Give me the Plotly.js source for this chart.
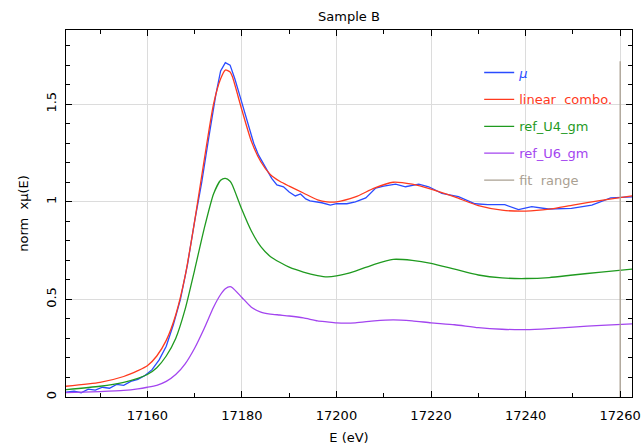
<!DOCTYPE html>
<html><head><meta charset="utf-8">
<script src="https://cdn.plot.ly/plotly-3.0.1.min.js"></script>
<style>body{margin:0;padding:0;background:#fff}#chart{width:644px;height:445px}</style>
</head><body><div id="chart"></div>
<script>
// mu (data)
const muE = [17142.8,17144.5,17146,17147.5,17149,17150.5,17152,17153.5,17155,17156.5,17158,17159.5,17161,17162.5,17164,17165.5,17167,17168.5,17170,17171.5,17173,17174.5,17175.5,17176.5,17177.5,17178.5,17179.6,17181,17182.5,17183.5,17185.3,17186.3,17187.4,17188.8,17190,17191.3,17192.4,17193.5,17194.4,17196,17196.9,17198.7,17200,17202.2,17204,17206.2,17208.3,17210,17212.5,17214.6,17217.4,17219.5,17222.3,17225.8,17229.3,17232,17235.6,17238.5,17241.3,17244.8,17249.7,17254,17258,17262.5];
const muV = [0.025,0.03,0.022,0.04,0.035,0.05,0.045,0.065,0.06,0.08,0.09,0.11,0.14,0.19,0.26,0.37,0.5,0.68,0.9,1.1,1.33,1.55,1.67,1.713,1.70,1.63,1.54,1.42,1.30,1.24,1.163,1.12,1.086,1.077,1.05,1.03,1.04,1.015,1.005,0.998,0.995,0.983,0.99,0.99,1.0,1.02,1.07,1.08,1.09,1.077,1.09,1.077,1.043,1.026,0.99,0.985,0.985,0.96,0.975,0.963,0.966,0.983,1.02,1.025];
// energies for the model curves
const fitE = [17142.8,17150,17155,17158,17160,17162,17164,17166,17168,17170,17172,17174,17175.5,17176.5,17177.5,17178,17180,17182,17184,17186,17188,17190,17193,17196,17198,17200,17204,17208,17212,17216,17220,17225,17230,17235,17240,17245,17250,17256,17262.5];
const comboV = [0.055,0.075,0.105,0.135,0.16,0.21,0.29,0.42,0.62,0.90,1.21,1.50,1.63,1.675,1.665,1.64,1.47,1.31,1.205,1.14,1.105,1.08,1.045,1.01,1.0,1.0,1.025,1.07,1.10,1.09,1.065,1.025,0.98,0.957,0.952,0.962,0.983,1.007,1.03];
const u4V = [0.038,0.055,0.075,0.095,0.115,0.15,0.21,0.30,0.45,0.65,0.86,1.04,1.11,1.12,1.105,1.085,0.96,0.85,0.77,0.72,0.69,0.665,0.64,0.622,0.615,0.62,0.645,0.68,0.705,0.70,0.685,0.655,0.625,0.61,0.607,0.612,0.625,0.64,0.655];
const u6V = [0.022,0.028,0.034,0.042,0.05,0.06,0.08,0.115,0.17,0.25,0.35,0.46,0.525,0.555,0.565,0.56,0.51,0.46,0.435,0.425,0.42,0.415,0.405,0.39,0.385,0.38,0.38,0.39,0.395,0.39,0.38,0.37,0.355,0.347,0.345,0.35,0.358,0.367,0.375];
const fitRangeE = [17260,17260];
const fitRangeV = [0,1.72];

const C = {mu:'#2a4bff', combo:'#ff3a1e', u4:'#1f9a1f', u6:'#a345ef', fr:'#aaa092'};
const lbl = (t,c)=>'<span style="color:'+c+'">'+t+'</span>';
const traces = [
 {x:muE,y:muV,name:lbl('<i>μ</i>',C.mu),line:{color:C.mu,width:1.3},legendgroup:'a'},
 {x:fitE,y:comboV,name:lbl('linear  combo.',C.combo),line:{color:C.combo,width:1.3,shape:'spline',smoothing:0.6},legendgroup:'b'},
 {x:fitE,y:u4V,name:lbl('ref_U4_gm',C.u4),line:{color:C.u4,width:1.3,shape:'spline',smoothing:0.6},legendgroup:'c'},
 {x:fitE,y:u6V,name:lbl('ref_U6_gm',C.u6),line:{color:C.u6,width:1.3,shape:'spline',smoothing:0.6},legendgroup:'d'},
 {x:fitRangeE,y:fitRangeV,name:lbl('fit  range',C.fr),line:{color:C.fr,width:1.3},legendgroup:'e'}
].map(t=>Object.assign({type:'scatter',mode:'lines',hoverinfo:'skip'},t));

const font = {family:'"DejaVu Sans", sans-serif', size:13, color:'#000'};
const layout = {
 width:644,height:445,
 margin:{l:66,r:12,t:30,b:48,pad:0},
 paper_bgcolor:'#fff',plot_bgcolor:'#fff',
 font:font,
 title:{text:'Sample B',font:{family:font.family,size:13},xref:'paper',x:0.5,xanchor:'center',y:0.962,yanchor:'middle'},
 showlegend:true,
 legend:{x:0.73,y:0.925,xanchor:'left',yanchor:'top',bgcolor:'rgba(0,0,0,0)',borderwidth:0,font:{family:font.family,size:13},tracegroupgap:7,traceorder:'grouped'},
 xaxis:{range:[17142.8,17262.5],dtick:20,tick0:17160,ticks:'inside',ticklen:6,tickcolor:'#000',
   minor:{dtick:10,ticks:'inside',ticklen:4,tickcolor:'#000',showgrid:false},
   showgrid:true,gridcolor:'#dcdcdc',gridwidth:1,zeroline:false,
   showline:true,linecolor:'#000',linewidth:1,mirror:'ticks',ticklabelstandoff:6,
   tickformat:'d',title:{text:'E (eV)',font:{family:font.family,size:13},standoff:12},
   tickfont:{family:font.family,size:13}},
 yaxis:{range:[0,1.88],dtick:0.5,tick0:0,ticks:'inside',ticklen:6,tickcolor:'#000',
   minor:{dtick:0.1,ticks:'inside',ticklen:4,tickcolor:'#000',showgrid:false},
   showgrid:true,gridcolor:'#dcdcdc',gridwidth:1,zeroline:false,
   showline:true,linecolor:'#000',linewidth:1,mirror:'ticks',ticklabelstandoff:4,
   tickangle:-90,tickfont:{family:font.family,size:13},
   title:{text:'norm  xμ(E)',font:{family:font.family,size:13},standoff:12}}
};
Plotly.newPlot('chart',traces,layout,{displayModeBar:false,staticPlot:true});
</script></body></html>
